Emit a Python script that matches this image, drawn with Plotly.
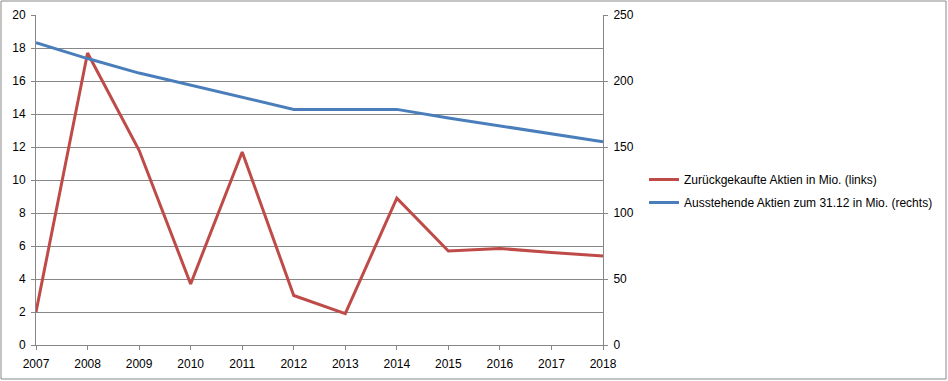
import plotly.graph_objects as go

years = [2007, 2008, 2009, 2010, 2011, 2012, 2013, 2014, 2015, 2016, 2017, 2018]
zurueckgekauft = [2.0, 17.7, 11.8, 3.7, 11.7, 3.0, 1.9, 8.9, 5.7, 5.85, 5.6, 5.4]
ausstehend = [229, 217, 206, 197, 188, 178.5, 178.5, 178.5, 172, 166, 160, 154]
left_ticks = [0, 2, 4, 6, 8, 10, 12, 14, 16, 18, 20]
right_ticks = [0, 50, 100, 150, 200, 250]

FONT = "Liberation Sans"
GRID = "#878787"

fig = go.Figure()
fig.add_trace(go.Scatter(x=years, y=zurueckgekauft, mode="lines",
                         name="Zurückgekaufte Aktien in Mio. (links)", legendgroup="a",
                         line=dict(color="#BE4B48", width=3), yaxis="y"))
fig.add_trace(go.Scatter(x=years, y=ausstehend, mode="lines",
                         name="Ausstehende Aktien zum 31.12 in Mio. (rechts)", legendgroup="b",
                         line=dict(color="#4A7EBB", width=3), yaxis="y2"))

W, H = 948, 381
L, R, T, B = 36, 345, 15, 36
pw = W - L - R
ph = H - T - B

fig.update_layout(
    width=W, height=H,
    margin=dict(l=L, r=R, t=T, b=B, autoexpand=False),
    paper_bgcolor="white", plot_bgcolor="white",
    font=dict(family=FONT, size=12, color="black"),
    showlegend=True,
    legend=dict(x=(644 - L) / pw, y=(345 - 165) / ph, xanchor="left", yanchor="top",
                bgcolor="rgba(0,0,0,0)", font=dict(size=12, family=FONT),
                itemwidth=30, tracegroupgap=4),
    xaxis=dict(range=[2007, 2018], tickvals=years, ticktext=[str(y) for y in years],
               showgrid=False, zeroline=False, showline=True, linecolor=GRID, linewidth=1,
               ticks="outside", ticklen=4, tickcolor=GRID, fixedrange=True, automargin=False,
               ticklabelstandoff=4),
    yaxis=dict(range=[0, 20], tickvals=left_ticks, showgrid=True, gridcolor=GRID, gridwidth=1,
               zeroline=False, showline=True, linecolor=GRID, linewidth=1,
               ticks="outside", ticklen=4, tickcolor=GRID, automargin=False,
               ticklabelstandoff=3),
    yaxis2=dict(range=[0, 250], tickvals=right_ticks, overlaying="y", side="right",
                showgrid=False, zeroline=False, showline=True, linecolor=GRID, linewidth=1,
                ticks="outside", ticklen=4, tickcolor=GRID, automargin=False,
                ticklabelstandoff=3),
)

fig.add_shape(type="rect", xref="paper", yref="paper",
              x0=(1 - L) / pw, x1=(946 - L) / pw,
              y0=(345 - 379) / ph, y1=(345 - 1) / ph,
              line=dict(color="#888888", width=1), fillcolor="rgba(0,0,0,0)", layer="below")

fig.write_html("out.html", config={"displayModeBar": False},
               post_script="document.body.style.margin='0';document.body.style.overflow='hidden';")
